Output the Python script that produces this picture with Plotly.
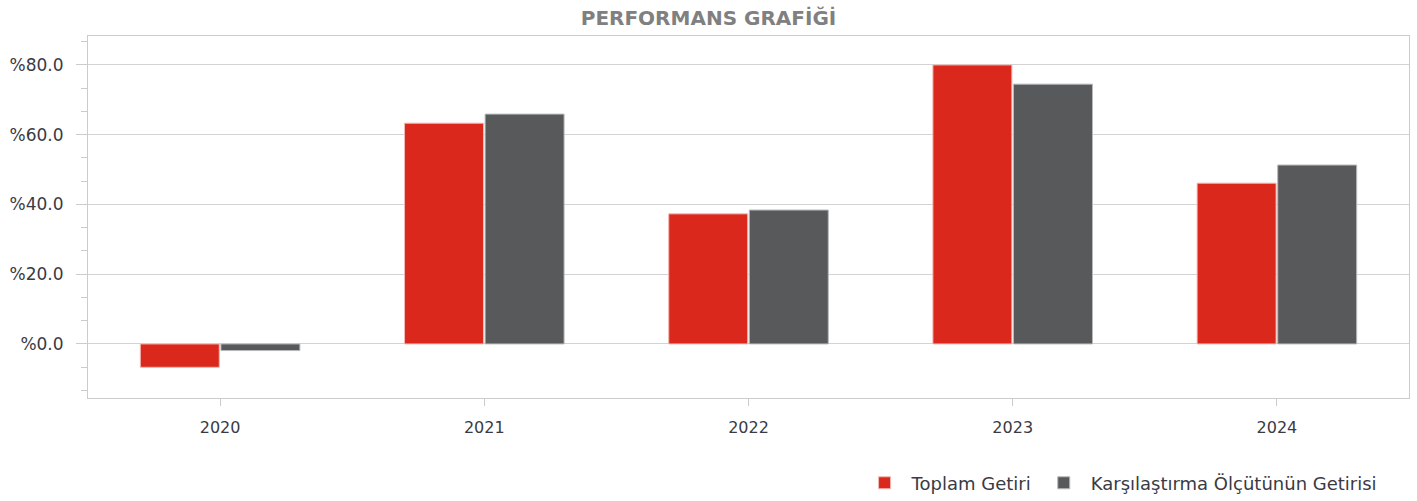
import plotly.graph_objects as go

years = ["2020", "2021", "2022", "2023", "2024"]
toplam_getiri = [-6.7, 63.3, 37.3, 80.0, 46.1]
karsilastirma = [-1.9, 65.9, 38.4, 74.5, 51.3]
y_tickvals = [0, 20, 40, 60, 80]
y_ticktext = ["%0.0", "%20.0", "%40.0", "%60.0", "%80.0"]

FONT = "Tahoma, DejaVu Sans, sans-serif"
TXT = "#3a3a44"

fig = go.Figure()
fig.add_trace(go.Bar(x=years, y=toplam_getiri, name="Toplam Getiri",
                     marker=dict(color="#da291c", line=dict(color="#f2b8b3", width=1))))
fig.add_trace(go.Bar(x=years, y=karsilastirma, name="Karşılaştırma Ölçütünün Getirisi",
                     marker=dict(color="#58595b", line=dict(color="#b8b9ba", width=1))))

fig.update_layout(
    width=1417, height=501,
    margin=dict(l=88, r=8, t=36, b=103, autoexpand=False),
    paper_bgcolor="white", plot_bgcolor="white",
    barmode="group", bargap=0.39, bargroupgap=0.02,
    title=dict(text="<b>PERFORMANS GRAFİĞİ</b>", x=0.5, xanchor="center",
               y=1 - 18 / 501, yanchor="middle",
               font=dict(family=FONT, size=20, color="#808080")),
    font=dict(family=FONT, size=16, color=TXT),
    legend=dict(orientation="h", x=0.98, xanchor="right", y=-0.235, yanchor="middle",
                font=dict(family=FONT, size=18, color=TXT),
                itemwidth=44, traceorder="normal"),
    xaxis=dict(type="category", range=[-0.5, 4.5], showline=True, mirror=True,
               linecolor="#cccccc", linewidth=1, ticks="outside", ticklen=7,
               tickcolor="#cccccc", showgrid=False, automargin=False,
               ticklabelstandoff=8,
               tickfont=dict(family=FONT, size=16, color=TXT)),
    yaxis=dict(range=[-15.5, 88.3], tickvals=y_tickvals, ticktext=y_ticktext,
               showline=True, mirror=True, linecolor="#cccccc", linewidth=1,
               ticks="outside", ticklen=11, tickcolor="#cccccc", automargin=False,
               ticklabelstandoff=9,
               showgrid=True, gridcolor="#d3d3d3", gridwidth=1,
               zeroline=True, zerolinecolor="#d3d3d3", zerolinewidth=1,
               minor=dict(dtick=20 / 3, tick0=0, ticks="outside", ticklen=6,
                          tickcolor="#cccccc", showgrid=False),
               tickfont=dict(family=FONT, size=17, color=TXT)),
)

fig.write_html("out.html", config={"displayModeBar": False},
               post_script="document.body.style.margin='0';document.body.style.padding='0';")
